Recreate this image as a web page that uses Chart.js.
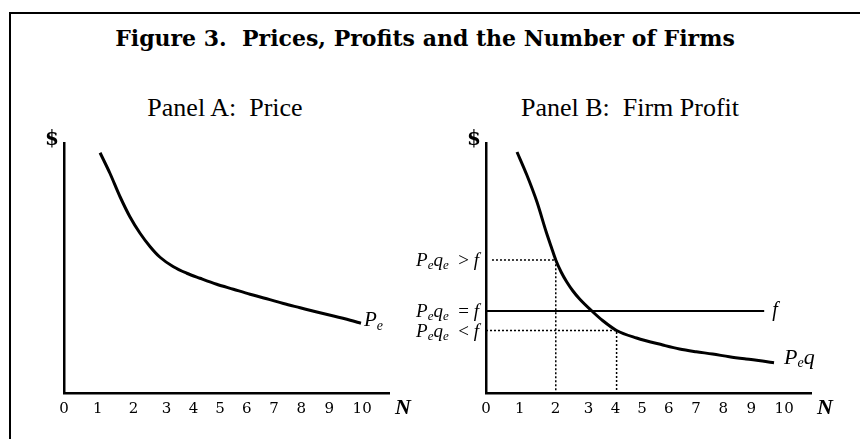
<!DOCTYPE html>
<html>
<head>
<meta charset="utf-8">
<title>Figure 3</title>
<script src="https://cdn.jsdelivr.net/npm/chart.js@4.4.1/dist/chart.umd.min.js"></script>
<style>
  body { margin: 0; background: #fff; }
  #page { position: relative; width: 860px; height: 439px; overflow: hidden; font-family: "Liberation Serif", serif; color: #000; }
  #frame { position: absolute; left: 9px; top: 12px; width: 900px; height: 500px; border-top: 2px solid #000; border-left: 2px solid #000; }
  .title { position: absolute; left: 0; width: 850px; top: 25px; text-align: center; font-family: "DejaVu Serif", serif; font-weight: bold; font-size: 22px; line-height: 26px; }
  .panel { position: absolute; top: 95px; width: 260px; text-align: center; font-size: 26px; line-height: 26px; }
  canvas { position: absolute; top: 0; }
</style>
</head>
<body>
<div id="page">
  <div id="frame"></div>
  <div class="title">Figure 3.&nbsp; Prices, Profits and the Number of Firms</div>
  <div class="panel" style="left:95px">Panel A:&nbsp; Price</div>
  <div class="panel" style="left:500px">Panel B:&nbsp; Firm Profit</div>
  <canvas id="chartA" width="430" height="439" style="left:0"></canvas>
  <canvas id="chartB" width="480" height="439" style="left:380px"></canvas>
</div>
<script>
// where each N label sits along the axis (the original spacing is uneven)
const nTickPos = [0, 1.13, 2.33, 3.44, 4.34, 5.23, 6.13, 7.04, 7.96, 8.9, 10];
const nTickLabels = ['0', '1', '2', '3', '4', '5', '6', '7', '8', '9', '10'];

// Panel A: price curve Pe
const priceN = [1.21, 1.54, 1.88, 2.21, 2.55, 2.89, 3.22, 3.67, 4.12, 4.56, 5.12, 5.68, 6.24, 6.80, 7.36, 7.92, 8.48, 9.04, 9.60, 9.96];
const priceVal = [9.61, 8.79, 7.85, 7.05, 6.39, 5.85, 5.43, 5.05, 4.79, 4.59, 4.35, 4.15, 3.95, 3.77, 3.58, 3.41, 3.24, 3.08, 2.91, 2.79];

// Panel B: profit curve Peq
const profitN = [1.04, 1.37, 1.71, 2.02, 2.19, 2.34, 2.52, 2.71, 2.91, 3.14, 3.55, 3.91, 4.38, 5.05, 5.93, 6.49, 7.05, 7.60, 8.16, 8.72, 9.27, 9.66];
const profitVal = [9.64, 8.72, 7.64, 6.44, 5.84, 5.32, 4.84, 4.44, 4.09, 3.76, 3.28, 2.90, 2.50, 2.20, 1.92, 1.76, 1.65, 1.56, 1.45, 1.36, 1.28, 1.21];

// fixed cost line and the two guide points
const fixedCost = 3.28;
const fixedCostEnd = 9.33;
const nFew = 2.34, profitHigh = 5.32;
const nMany = 4.38, profitLow = 2.50;

const SERIF = '"Liberation Serif", serif';
const font = (style, size, family) => `${style} ${size}px ${family || SERIF}`;

function pts(xs, ys) {
  return xs.map((x, i) => ({ x: x, y: ys[i] }));
}

// draw text made of several pieces (italic letters, subscripts)
function drawRich(ctx, x, y, parts, align) {
  let w = 0;
  parts.forEach(p => {
    ctx.font = p.font;
    p.w = ctx.measureText(p.text).width;
    w += p.w;
  });
  let cx = align === 'right' ? x - w : x;
  ctx.textAlign = 'left';
  ctx.textBaseline = 'alphabetic';
  parts.forEach(p => {
    ctx.font = p.font;
    ctx.fillText(p.text, cx, y + (p.dy || 0));
    cx += p.w;
  });
}

function peqe(sign) {
  return [
    { text: 'P', font: font('italic', 19) },
    { text: 'e', font: font('italic', 13), dy: 3 },
    { text: 'q', font: font('italic', 19) },
    { text: 'e', font: font('italic', 13), dy: 3 },
    { text: '  ' + sign, font: font('normal', 19) },
    { text: ' f', font: font('italic', 19) },
  ];
}

const figureText = {
  id: 'figureText',
  afterDraw(chart, args, opts) {
    const { ctx, chartArea } = chart;
    const xs = chart.scales.x, ys = chart.scales.y;
    ctx.save();
    ctx.fillStyle = '#000';
    ctx.textAlign = 'center';
    ctx.textBaseline = 'middle';
    ctx.font = font('bold', 20, '"DejaVu Serif", serif');
    ctx.fillText('$', chartArea.left - 12, chartArea.top - 3);
    ctx.font = font('bold italic', 22);
    ctx.fillText('N', chartArea.right + 14, chartArea.bottom + 15);
    opts.labels(ctx, xs, ys);
    ctx.restore();
  }
};

function curve(data) {
  return {
    data: data,
    borderColor: '#000',
    borderWidth: 3,
    pointRadius: 0,
    cubicInterpolationMode: 'monotone',
  };
}

function guide(data, dashed, width) {
  return {
    data: data,
    borderColor: '#000',
    borderWidth: width,
    borderDash: dashed ? [2, 2] : [],
    pointRadius: 0,
    tension: 0,
  };
}

function makeOptions(pad, labels) {
  return {
    responsive: false,
    animation: false,
    layout: { padding: pad },
    plugins: {
      legend: { display: false },
      tooltip: { enabled: false },
      figureText: { labels: labels },
    },
    scales: {
      x: {
        type: 'linear',
        min: 0,
        max: 10.9,
        grid: { drawOnChartArea: false, drawTicks: false },
        border: { color: '#000', width: 2.5 },
        afterBuildTicks: s => { s.ticks = nTickPos.map(v => ({ value: v })); },
        afterFit: s => { s.height = 46; s.paddingLeft = 0; s.paddingRight = 0; },
        ticks: {
          autoSkip: false,
          maxRotation: 0,
          padding: 7,
          color: '#000',
          font: { family: '"DejaVu Serif", serif', size: 15 },
          callback: (v, i) => nTickLabels[i],
        },
      },
      y: {
        type: 'linear',
        min: 0,
        max: 10,
        grid: { drawOnChartArea: false, drawTicks: false },
        border: { color: '#000', width: 2.5 },
        ticks: { display: false },
        afterFit: s => { s.width = 0; },
      },
    },
  };
}

new Chart(document.getElementById('chartA'), {
  type: 'line',
  data: { datasets: [curve(pts(priceN, priceVal))] },
  options: makeOptions({ left: 64, right: 41, top: 143, bottom: 0 }, (ctx, xs, ys) => {
    const n = priceN.length - 1;
    const x = xs.getPixelForValue(priceN[n]);
    const y = ys.getPixelForValue(priceVal[n]);
    drawRich(ctx, x + 3, y + 3, [
      { text: 'P', font: font('italic', 21) },
      { text: 'e', font: font('italic', 14), dy: 4 },
    ]);
  }),
  plugins: [figureText],
});

new Chart(document.getElementById('chartB'), {
  type: 'line',
  data: {
    datasets: [
      curve(pts(profitN, profitVal)),
      guide([{ x: 0, y: fixedCost }, { x: fixedCostEnd, y: fixedCost }], false, 2),
      guide([{ x: 0.2, y: profitHigh }, { x: nFew, y: profitHigh }, { x: nFew, y: 0 }], true, 1.5),
      guide([{ x: 0, y: profitLow }, { x: nMany, y: profitLow }, { x: nMany, y: 0 }], true, 1.5),
    ],
  },
  options: makeOptions({ left: 106, right: 49, top: 143, bottom: 0 }, (ctx, xs, ys) => {
    const n = profitN.length - 1;
    const x = xs.getPixelForValue(profitN[n]);
    const y = ys.getPixelForValue(profitVal[n]);
    drawRich(ctx, x + 10, y + 1, [
      { text: 'P', font: font('italic', 22) },
      { text: 'e', font: font('italic', 14), dy: 3 },
      { text: 'q', font: font('italic', 22) },
    ]);
    const fy = ys.getPixelForValue(fixedCost);
    drawRich(ctx, xs.getPixelForValue(fixedCostEnd) + 8, fy + 5, [
      { text: 'f', font: font('italic', 20) },
    ]);
    const left = xs.getPixelForValue(0) - 7;
    drawRich(ctx, left, ys.getPixelForValue(profitHigh) + 6, peqe('>'), 'right');
    drawRich(ctx, left, fy + 6, peqe('='), 'right');
    drawRich(ctx, left, ys.getPixelForValue(profitLow) + 6, peqe('<'), 'right');
  }),
  plugins: [figureText],
});
</script>
</body>
</html>
